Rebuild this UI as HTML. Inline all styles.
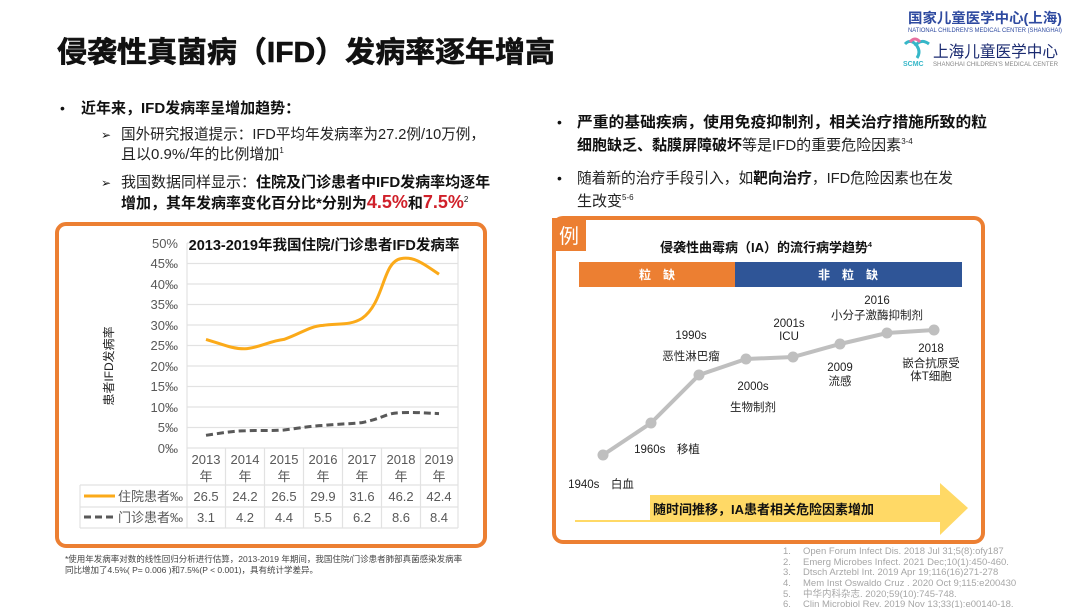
<!DOCTYPE html>
<html><head><meta charset="utf-8"><style>
html,body{margin:0;padding:0;background:#fff;width:1080px;height:608px;overflow:hidden}
text{font-family:"Liberation Sans","Noto Sans CJK SC",sans-serif}
</style></head><body>
<svg width="1080" height="608" viewBox="0 0 1080 608" xmlns="http://www.w3.org/2000/svg">
<!-- logo -->
<text x="908" y="23" font-size="14" fill="#2e4aa0" font-weight="bold" textLength="154" lengthAdjust="spacingAndGlyphs">国家儿童医学中心(上海)</text>
<text x="908" y="32" font-size="6" fill="#2e4aa0" textLength="154" lengthAdjust="spacingAndGlyphs">NATIONAL CHILDREN'S MEDICAL CENTER (SHANGHAI)</text>
<path d="M905 44 q6 -6 12 2 q4 6 0 12 M915 46 q6 -8 14 -2" stroke="#36b7c8" stroke-width="3" fill="none"/>
<path d="M910 42 q5 -6 10 0" stroke="#e770a0" stroke-width="3" fill="none"/>
<text x="903" y="66" font-size="7" fill="#36b7c8" font-weight="bold">SCMC</text>
<text x="933" y="57" font-size="16" fill="#1a2a70" font-family="Liberation Serif,'Noto Serif CJK SC',serif" textLength="125" lengthAdjust="spacingAndGlyphs">上海儿童医学中心</text>
<text x="933" y="66" font-size="6" fill="#888" textLength="125" lengthAdjust="spacingAndGlyphs">SHANGHAI CHILDREN'S MEDICAL CENTER</text>

<!-- title -->
<text x="57" y="62" font-size="29" font-weight="bold" fill="#111" textLength="498" lengthAdjust="spacingAndGlyphs" stroke="#111" stroke-width="0.6">侵袭性真菌病（IFD）发病率逐年增高</text>

<!-- left bullets -->
<text x="60" y="113" font-size="14" fill="#111">•</text>
<text x="81" y="113" font-size="15" font-weight="bold" fill="#111">近年来，IFD发病率呈增加趋势：</text>
<text x="101" y="139" font-size="12" fill="#111">➢</text>
<text x="121" y="139" font-size="15" fill="#222" textLength="364" lengthAdjust="spacingAndGlyphs">国外研究报道提示：IFD平均年发病率为27.2例/10万例，</text>
<text x="121" y="159" font-size="15" fill="#222">且以0.9%/年的比例增加<tspan font-size="8" dy="-6">1</tspan></text>
<text x="101" y="187" font-size="12" fill="#111">➢</text>
<text x="121" y="187" font-size="15" fill="#222">我国数据同样显示：<tspan font-weight="bold" fill="#111">住院及门诊患者中IFD发病率均逐年</tspan></text>
<text x="121" y="208" font-size="15" font-weight="bold" fill="#111">增加，其年发病率变化百分比*分别为<tspan fill="#d0202a" font-size="18">4.5%</tspan>和<tspan fill="#d0202a" font-size="18">7.5%</tspan><tspan font-size="8" font-weight="normal" dy="-6">2</tspan></text>

<!-- right bullets -->
<text x="557" y="127" font-size="14" fill="#111">•</text>
<text x="577" y="127" font-size="15" font-weight="bold" fill="#111" textLength="410" lengthAdjust="spacingAndGlyphs">严重的基础疾病，使用免疫抑制剂，相关治疗措施所致的粒</text>
<text x="577" y="150" font-size="15" fill="#222"><tspan font-weight="bold" fill="#111">细胞缺乏、黏膜屏障破坏</tspan>等是IFD的重要危险因素<tspan font-size="8" dy="-6">3-4</tspan></text>
<text x="557" y="183" font-size="14" fill="#111">•</text>
<text x="577" y="183" font-size="15" fill="#222" textLength="376" lengthAdjust="spacingAndGlyphs">随着新的治疗手段引入，如<tspan font-weight="bold" fill="#111">靶向治疗</tspan>，IFD危险因素也在发</text>
<text x="577" y="206" font-size="15" fill="#222">生改变<tspan font-size="8" dy="-6">5-6</tspan></text>

<!-- LEFT PANEL -->
<rect x="57" y="224" width="428" height="322" rx="9" fill="#fff" stroke="#ec7f32" stroke-width="4"/>
<g stroke="#e2e2e2" stroke-width="1.2">
<line x1="187" y1="243" x2="458" y2="243"/><line x1="187" y1="263.5" x2="458" y2="263.5"/>
<line x1="187" y1="284" x2="458" y2="284"/><line x1="187" y1="304.5" x2="458" y2="304.5"/>
<line x1="187" y1="325" x2="458" y2="325"/><line x1="187" y1="345.5" x2="458" y2="345.5"/>
<line x1="187" y1="366" x2="458" y2="366"/><line x1="187" y1="386.5" x2="458" y2="386.5"/>
<line x1="187" y1="407" x2="458" y2="407"/><line x1="187" y1="427.5" x2="458" y2="427.5"/>
<line x1="187" y1="448" x2="458" y2="448"/>
<line x1="187" y1="243" x2="187" y2="528"/>
<line x1="225.5" y1="448" x2="225.5" y2="528"/><line x1="264.5" y1="448" x2="264.5" y2="528"/>
<line x1="303.5" y1="448" x2="303.5" y2="528"/><line x1="342.5" y1="448" x2="342.5" y2="528"/>
<line x1="381.5" y1="448" x2="381.5" y2="528"/><line x1="420.5" y1="448" x2="420.5" y2="528"/>
<line x1="458" y1="243" x2="458" y2="528"/>
<line x1="80" y1="485" x2="458" y2="485"/><line x1="80" y1="507" x2="458" y2="507"/><line x1="80" y1="528" x2="458" y2="528"/>
<line x1="80" y1="485" x2="80" y2="528"/>
</g>
<g font-size="13" fill="#595959" text-anchor="end">
<text x="178" y="248">50%</text><text x="178" y="268">45‰</text><text x="178" y="289">40‰</text>
<text x="178" y="309">35‰</text><text x="178" y="330">30‰</text><text x="178" y="350">25‰</text>
<text x="178" y="371">20‰</text><text x="178" y="391">15‰</text><text x="178" y="412">10‰</text>
<text x="178" y="432">5‰</text><text x="178" y="453">0‰</text>
</g>
<text x="324" y="250" font-size="14.5" font-weight="bold" fill="#111" text-anchor="middle">2013-2019年我国住院/门诊患者IFD发病率</text>
<text transform="translate(113,366) rotate(-90)" font-size="12" fill="#222" text-anchor="middle">患者IFD发病率</text>
<g font-size="13" fill="#595959" text-anchor="middle">
<text x="206" y="464">2013</text><text x="245" y="464">2014</text><text x="284" y="464">2015</text><text x="323" y="464">2016</text><text x="362" y="464">2017</text><text x="401" y="464">2018</text><text x="439" y="464">2019</text>
<text x="206" y="481">年</text><text x="245" y="481">年</text><text x="284" y="481">年</text><text x="323" y="481">年</text><text x="362" y="481">年</text><text x="401" y="481">年</text><text x="439" y="481">年</text>
<text x="206" y="501">26.5</text><text x="245" y="501">24.2</text><text x="284" y="501">26.5</text><text x="323" y="501">29.9</text><text x="362" y="501">31.6</text><text x="401" y="501">46.2</text><text x="439" y="501">42.4</text>
<text x="206" y="522">3.1</text><text x="245" y="522">4.2</text><text x="284" y="522">4.4</text><text x="323" y="522">5.5</text><text x="362" y="522">6.2</text><text x="401" y="522">8.6</text><text x="439" y="522">8.4</text>
</g>
<line x1="84" y1="496" x2="115" y2="496" stroke="#fbaa19" stroke-width="3"/>
<line x1="84" y1="517" x2="115" y2="517" stroke="#595959" stroke-width="3" stroke-dasharray="7,4"/>
<text x="118" y="501" font-size="13" fill="#595959">住院患者‰</text>
<text x="118" y="522" font-size="13" fill="#595959">门诊患者‰</text>
<path d="M206 339.4 C222 344,232 349,245 348.8 C258 348,270 341,284 339.4 C300 334,310 326,323 325.4 C336 323,350 326,362 318.4 C385 302,382 262,401 258.6 C415 256,425 265,439 274.2" fill="none" stroke="#fbaa19" stroke-width="3"/>
<path d="M206 435.3 C222 433,232 431,245 430.8 C258 430,270 431,284 430 C300 428,310 426,323 425.5 C336 424,350 424,362 422.6 C385 418,385 413,401 412.7 C415 412,425 413,439 413.6" fill="none" stroke="#595959" stroke-width="3" stroke-dasharray="7,4"/>

<text x="65" y="562" font-size="8.5" fill="#444">*使用年发病率对数的线性回归分析进行估算，2013-2019 年期间，我国住院/门诊患者肺部真菌感染发病率</text>
<text x="65" y="573" font-size="8.5" fill="#444">同比增加了4.5%( P= 0.006 )和7.5%(P &lt; 0.001)，具有统计学差异。</text>

<!-- RIGHT PANEL -->
<rect x="554" y="218" width="429" height="324" rx="9" fill="#fff" stroke="#ec7f32" stroke-width="4"/>
<rect x="552" y="218" width="34" height="33" fill="#ec7f32"/>
<text x="569" y="243" font-size="20" fill="#fff" text-anchor="middle">例</text>
<text x="766" y="252" font-size="13" font-weight="bold" fill="#111" text-anchor="middle">侵袭性曲霉病（IA）的流行病学趋势<tspan font-size="7" dy="-5">4</tspan></text>
<rect x="579" y="262" width="156" height="25" fill="#ec7f32"/>
<rect x="735" y="262" width="227" height="25" fill="#2f5597"/>
<text x="657" y="279" font-size="12" font-weight="bold" fill="#fff" text-anchor="middle">粒　缺</text>
<text x="848" y="279" font-size="12" font-weight="bold" fill="#fff" text-anchor="middle">非　粒　缺</text>
<polyline points="603,455 651,423 699,375 746,359 793,357 840,344 887,333 934,330" fill="none" stroke="#bfbfbf" stroke-width="4"/>
<g fill="#bfbfbf">
<circle cx="603" cy="455" r="5.5"/><circle cx="651" cy="423" r="5.5"/><circle cx="699" cy="375" r="5.5"/><circle cx="746" cy="359" r="5.5"/>
<circle cx="793" cy="357" r="5.5"/><circle cx="840" cy="344" r="5.5"/><circle cx="887" cy="333" r="5.5"/><circle cx="934" cy="330" r="5.5"/>
</g>
<g font-size="11.5" fill="#222" text-anchor="middle">
<text x="691" y="339">1990s</text><text x="691" y="360">恶性淋巴瘤</text>
<text x="789" y="327">2001s</text><text x="789" y="340">ICU</text>
<text x="877" y="304">2016</text><text x="877" y="319">小分子激酶抑制剂</text>
<text x="753" y="390">2000s</text><text x="753" y="411">生物制剂</text>
<text x="667" y="453">1960s　移植</text>
<text x="840" y="371">2009</text><text x="840" y="385">流感</text>
<text x="931" y="352">2018</text><text x="931" y="367">嵌合抗原受</text><text x="931" y="380">体T细胞</text>
<text x="601" y="488">1940s　白血</text><text x="600" y="512">病</text>
</g>
<polygon points="575,495 940,495 940,483 968,508 940,535 940,522 575,522" fill="#ffd966"/>
<rect x="575" y="493" width="75" height="27" fill="#fff"/>
<text x="653" y="514" font-size="13" font-weight="bold" fill="#111">随时间推移，IA患者相关危险因素增加</text>

<g font-size="9.5" fill="#a6a6a6">
<text x="783" y="554">1.</text><text x="803" y="554">Open Forum Infect Dis. 2018 Jul 31;5(8):ofy187</text>
<text x="783" y="565">2.</text><text x="803" y="565">Emerg Microbes Infect. 2021 Dec;10(1):450-460.</text>
<text x="783" y="575">3.</text><text x="803" y="575">Dtsch Arztebl Int. 2019 Apr 19;116(16)271-278</text>
<text x="783" y="586">4.</text><text x="803" y="586">Mem Inst Oswaldo Cruz . 2020 Oct 9;115:e200430</text>
<text x="783" y="597">5.</text><text x="803" y="597">中华内科杂志. 2020;59(10):745-748.</text>
<text x="783" y="607">6.</text><text x="803" y="607">Clin Microbiol Rev. 2019 Nov 13;33(1):e00140-18.</text>
</g>
</svg>
</body></html>
